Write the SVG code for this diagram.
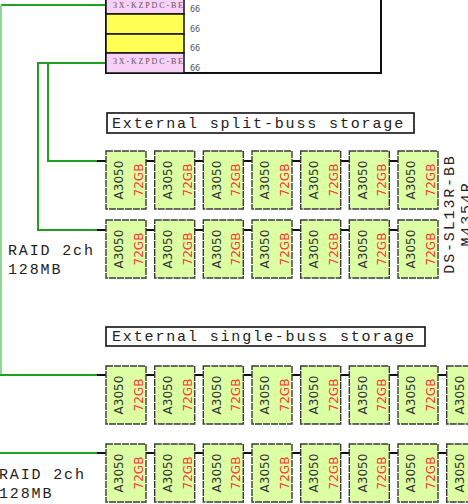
<svg xmlns="http://www.w3.org/2000/svg" width="468" height="504" viewBox="0 0 468 504">
<style>
.disk rect{fill:#dcffa4;stroke:#3a3a3a;stroke-width:1.4;stroke-dasharray:7 1}
.dn{font-family:"DejaVu Sans",sans-serif;font-size:12px;fill:#333;text-anchor:middle}
.dg{font-family:"DejaVu Sans",sans-serif;font-size:12px;fill:#ff3333;text-anchor:middle}
.mono{font-family:"Liberation Mono","Courier New",monospace;font-size:15px;fill:#222;letter-spacing:1.85px}
.title rect{fill:#fff;stroke:#111;stroke-width:1.6}
.cell{stroke:#111;stroke-width:1.5}
.ctl{font-family:"Liberation Serif","Times New Roman",serif;font-size:8px;fill:#555}
.num{font-family:"DejaVu Sans",sans-serif;font-size:8px;fill:#555}
.g{fill:none;stroke:#22a022;stroke-width:2}
.lg{fill:none;stroke:#8fd88f;stroke-width:2}
.b{fill:none;stroke:#111;stroke-width:2}
</style>
<defs>
<g id="disk" class="disk">
<rect x="0" y="0" width="40" height="58"/>
<text class="dn" transform="translate(17.3,29) rotate(-90)">A3050</text>
<text class="dg" transform="translate(36.8,29) rotate(-90)">72GB</text>
</g>
</defs>

<g id="connectors">
<path class="g" d="M106,63 H48 V161 H97"/>
<path class="g" d="M106,63 H38 V230 H97"/>
<path class="g" d="M106,5 H1"/>
<path class="lg" d="M1,5 V375"/>
<path class="g" d="M0,375 H97"/>
<path class="g" d="M0,453 H97"/>
<path class="b" d="M97,161 H106 M97,230 H106 M97,375 H106 M97,453 H106"/>
<path class="b" d="M146,161 H154.7 M194.7,161 H203.3 M243.3,161 H252 M292,161 H300.7 M340.7,161 H349.3 M389.3,161 H398"/>
<path class="b" d="M146,230 H154.7 M194.7,230 H203.3 M243.3,230 H252 M292,230 H300.7 M340.7,230 H349.3 M389.3,230 H398"/>
<path class="b" d="M146,375 H154.7 M194.7,375 H203.3 M243.3,375 H252 M292,375 H300.7 M340.7,375 H349.3 M389.3,375 H398 M438,375 H446.7"/>
<path class="b" d="M146,453 H154.7 M194.7,453 H203.3 M243.3,453 H252 M292,453 H300.7 M340.7,453 H349.3 M389.3,453 H398 M438,453 H446.7"/>
</g>

<g id="controller">
<rect x="106" y="-10" width="275" height="83" fill="#fff" stroke="#111" stroke-width="2"/>
<rect class="cell" x="106" y="-10" width="78" height="24" fill="#f8d0f8"/>
<rect class="cell" x="106" y="14" width="78" height="20" fill="#ffff55"/>
<rect class="cell" x="106" y="34" width="78" height="19" fill="#ffff55"/>
<rect class="cell" x="106" y="53" width="78" height="20" fill="#f8d0f8"/>
<text class="ctl" x="113" y="8" textLength="70" lengthAdjust="spacing">3X-KZPDC-BE</text>
<text class="ctl" x="113" y="64" textLength="70" lengthAdjust="spacing">3X-KZPDC-BE</text>
<text class="num" x="190" y="11.7">66</text>
<text class="num" x="190" y="31.7">66</text>
<text class="num" x="190" y="50.5">66</text>
<text class="num" x="190" y="70.7">66</text>
</g>

<g id="title-split" class="title">
<rect x="107" y="113" width="307" height="20"/>
<text class="mono" x="112" y="127.5">External split-buss storage</text>
</g>

<g id="title-single" class="title">
<rect x="106" y="327" width="319" height="19"/>
<text class="mono" x="112" y="341">External single-buss storage</text>
</g>

<g id="raid1">
<text class="mono" x="8" y="255">RAID 2ch</text>
<text class="mono" x="8" y="274">128MB</text>
</g>
<g id="raid2">
<text class="mono" x="-1" y="479">RAID 2ch</text>
<text class="mono" x="-1" y="498">128MB</text>
</g>

<g id="enclosure-label">
<text class="mono" text-anchor="middle" transform="translate(454,214) rotate(-90)">DS-SL13R-BB</text>
<text class="mono" text-anchor="middle" transform="translate(471,214) rotate(-90)">M4354R</text>
</g>

<g id="split-row1">
<use href="#disk" x="106" y="151"/><use href="#disk" x="154.7" y="151"/><use href="#disk" x="203.3" y="151"/><use href="#disk" x="252" y="151"/><use href="#disk" x="300.7" y="151"/><use href="#disk" x="349.3" y="151"/><use href="#disk" x="398" y="151"/>
</g>
<g id="split-row2">
<use href="#disk" x="106" y="220"/><use href="#disk" x="154.7" y="220"/><use href="#disk" x="203.3" y="220"/><use href="#disk" x="252" y="220"/><use href="#disk" x="300.7" y="220"/><use href="#disk" x="349.3" y="220"/><use href="#disk" x="398" y="220"/>
</g>
<g id="single-row1">
<use href="#disk" x="106" y="366"/><use href="#disk" x="154.7" y="366"/><use href="#disk" x="203.3" y="366"/><use href="#disk" x="252" y="366"/><use href="#disk" x="300.7" y="366"/><use href="#disk" x="349.3" y="366"/><use href="#disk" x="398" y="366"/><use href="#disk" x="446.7" y="366"/>
</g>
<g id="single-row2">
<use href="#disk" x="106" y="444"/><use href="#disk" x="154.7" y="444"/><use href="#disk" x="203.3" y="444"/><use href="#disk" x="252" y="444"/><use href="#disk" x="300.7" y="444"/><use href="#disk" x="349.3" y="444"/><use href="#disk" x="398" y="444"/><use href="#disk" x="446.7" y="444"/>
</g>
</svg>
